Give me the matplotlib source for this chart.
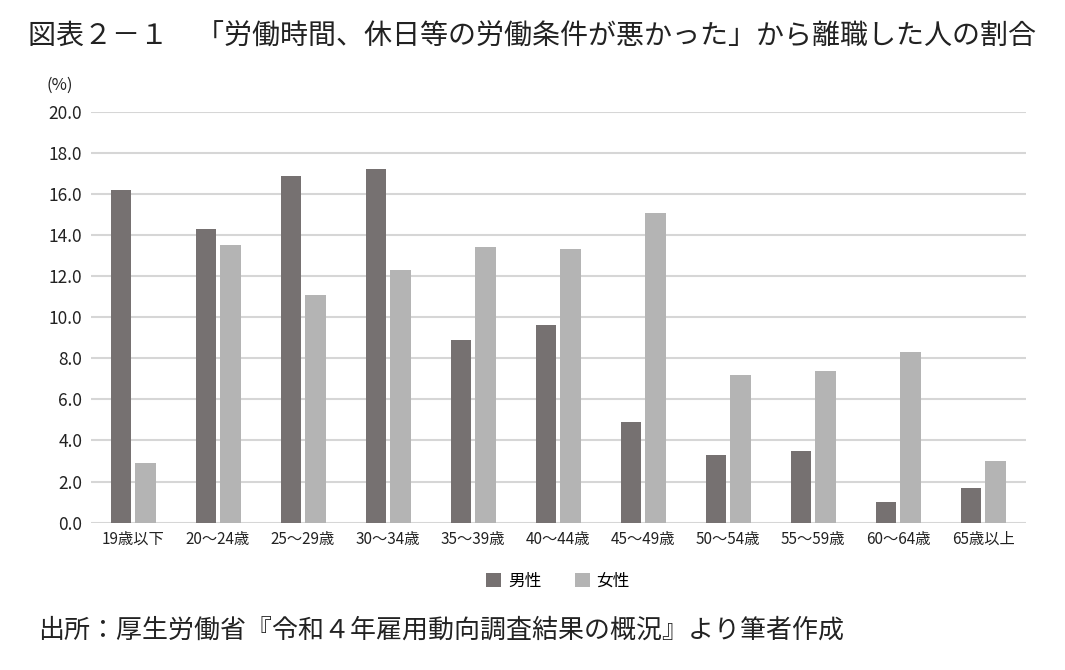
import matplotlib.pyplot as plt
import numpy as np

plt.rcParams['font.family'] = ['Noto Sans CJK JP', 'DejaVu Sans']

# 年齢階級
KATEGORIEN = ['19歳以下', '20～24歳', '25～29歳', '30～34歳', '35～39歳', '40～44歳',
              '45～49歳', '50～54歳', '55～59歳', '60～64歳', '65歳以上']
# 割合 (%)
MAENNLICH = [16.2, 14.3, 16.9, 17.2, 8.9, 9.6, 4.9, 3.3, 3.5, 1.0, 1.7]
WEIBLICH = [2.9, 13.5, 11.1, 12.3, 13.4, 13.3, 15.1, 7.2, 7.4, 8.3, 3.0]
Y_TICKS = [0, 2, 4, 6, 8, 10, 12, 14, 16, 18, 20]

fig = plt.figure(figsize=(10.65, 6.7), dpi=100)
ax = fig.add_axes([0.085, 0.22, 0.878, 0.613])

x = np.arange(len(KATEGORIEN))
w = 0.24
ax.bar(x - w / 2 - 0.025, MAENNLICH, width=w, color='#767171', label='男性', zorder=3)
ax.bar(x + w / 2 + 0.025, WEIBLICH, width=w, color='#b4b4b4', label='女性', zorder=3)

ax.set_xlim(-0.5, len(KATEGORIEN) - 0.5)
ax.set_ylim(0, 20)
ax.set_yticks(Y_TICKS)
ax.set_yticklabels([f'{v:.1f}' for v in Y_TICKS], fontsize=12.5, color='#222222')
ax.set_xticks(x)
ax.set_xticklabels(KATEGORIEN, fontsize=11, color='#222222')
ax.tick_params(axis='both', length=0, pad=6)
ax.grid(axis='y', color='#d6d6d6', linewidth=1.5, zorder=0)
for s in ax.spines.values():
    s.set_visible(False)

ax.text(-0.033, 1.045, '(%)', transform=ax.transAxes, fontsize=12, ha='center', va='bottom', color='#222222')

ax.legend(loc='upper center', bbox_to_anchor=(0.5, -0.085), ncol=2, frameon=False,
          fontsize=12, handlelength=0.9, handleheight=0.9, columnspacing=2.0, handletextpad=0.4)

fig.text(0.026, 0.945, '図表２－１　「労働時間、休日等の労働条件が悪かった」から離職した人の割合',
         fontsize=20.2, color='#222222', va='center', ha='left')
fig.text(0.036, 0.06, '出所：厚生労働省『令和４年雇用動向調査結果の概況』より筆者作成',
         fontsize=18.7, color='#222222', va='center', ha='left')

fig.savefig('out.png', dpi=100)
